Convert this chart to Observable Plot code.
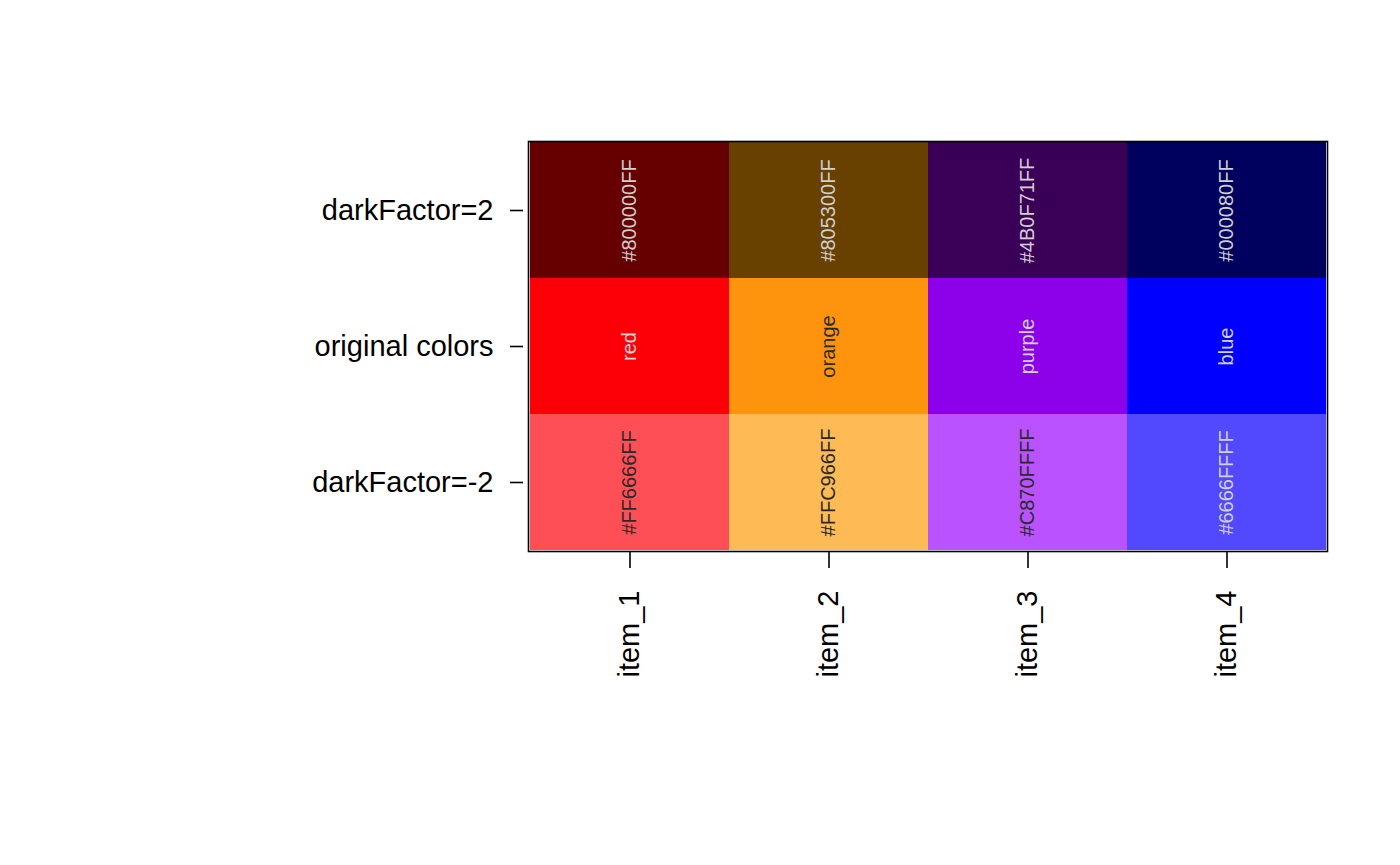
<!DOCTYPE html>
<html>
<head>
<meta charset="utf-8">
<script src="https://cdn.jsdelivr.net/npm/d3@7"></script>
<script src="https://cdn.jsdelivr.net/npm/@observablehq/plot@0.6"></script>
<style>
  html, body { margin: 0; padding: 0; background: #fff; }
  #chart svg { display: block; }
</style>
</head>
<body>
<div id="chart"></div>
<script>
const items = ["item_1", "item_2", "item_3", "item_4"];
const rows = ["darkFactor=2", "original colors", "darkFactor=-2"];

const labelsDark2 = ["#800000FF", "#805300FF", "#4B0F71FF", "#000080FF"];
const labelsOriginal = ["red", "orange", "purple", "blue"];
const labelsDarkNeg2 = ["#FF6666FF", "#FFC966FF", "#C870FFFF", "#6666FFFF"];

const fillsDark2 = ["#660000", "#684000", "#3a0057", "#00005f"];
const fillsOriginal = ["#fd0007", "#fe930e", "#8c00ea", "#0000ff"];
const fillsDarkNeg2 = ["#fe4f57", "#feba55", "#bb52ff", "#5249ff"];

const textDark2 = ["#d0d0d0", "#d0d0d0", "#d0d0d0", "#d0d0d0"];
const textOriginal = ["#d0d0d0", "#2a2a2a", "#d0d0d0", "#d0d0d0"];
const textDarkNeg2 = ["#2a2a2a", "#2a2a2a", "#2a2a2a", "#d0d0d0"];

const rowLabels = [labelsDark2, labelsOriginal, labelsDarkNeg2];
const rowFills = [fillsDark2, fillsOriginal, fillsDarkNeg2];
const rowText = [textDark2, textOriginal, textDarkNeg2];

const cells = [];
rows.forEach((r, i) => {
  items.forEach((it, j) => {
    cells.push({row: r, item: it, label: rowLabels[i][j], fill: rowFills[i][j], tc: rowText[i][j]});
  });
});

const font = "'Liberation Sans', Arial, Helvetica, sans-serif";

const chart = Plot.plot({
  width: 1400,
  height: 865,
  marginLeft: 528,
  marginRight: 73,
  marginTop: 141,
  marginBottom: 314,
  style: {fontFamily: font, background: "#fff", color: "#000"},
  x: {domain: items, padding: 0, label: null},
  y: {domain: rows, padding: 0, label: null},
  color: {type: "identity"},
  marks: [
    Plot.cell(cells, {x: "item", y: "row", fill: "fill"}),
    Plot.text(cells, {x: "item", y: "row", text: "label", rotate: -90, fill: "tc", fontSize: 20, fontFamily: font}),
    Plot.frame({stroke: "#000", strokeWidth: 1.6}),
    Plot.axisX({tickSize: 17, tickPadding: 22, tickRotate: -90, fontSize: 29, label: null, stroke: "#000", strokeWidth: 1.6, fill: "#000"}),
    Plot.axisY({tickSize: 13, dx: -5, tickPadding: 17, fontSize: 29, label: null, stroke: "#000", strokeWidth: 1.6, fill: "#000"})
  ]
});
document.getElementById("chart").appendChild(chart);
</script>
</body>
</html>
